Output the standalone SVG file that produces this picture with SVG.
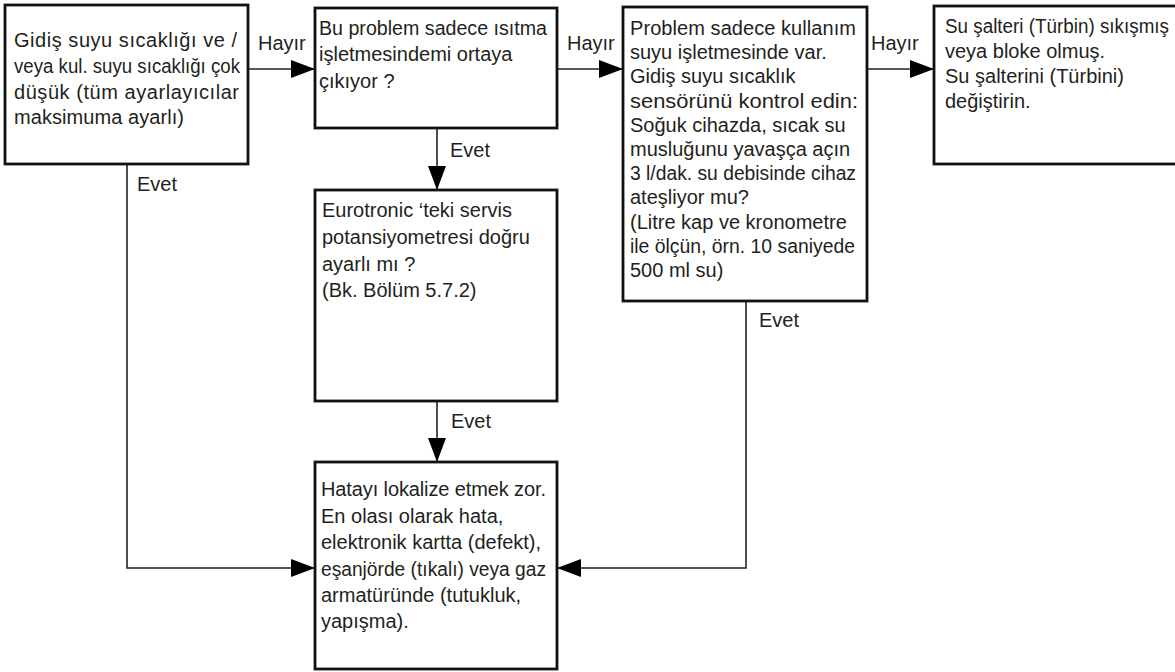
<svg xmlns="http://www.w3.org/2000/svg" width="1175" height="672" viewBox="0 0 1175 672">
<style>
.box{fill:#fff;stroke:#111;stroke-width:2.8}
.t{font-family:"Liberation Sans",Arial,sans-serif;font-size:20px;fill:#231f20}
.c{fill:none;stroke:#222;stroke-width:1.6}
</style>
<defs>
<marker id="ah" markerUnits="userSpaceOnUse" markerWidth="24" markerHeight="18" refX="24" refY="9" orient="auto">
<path d="M0,0 L24,9 L0,18 Z" fill="#000"/>
</marker>
</defs>
<rect width="1175" height="672" fill="#fff"/>
<g id="connectors">
<line class="c" x1="248" y1="69" x2="315" y2="69" marker-end="url(#ah)"/>
<line class="c" x1="557" y1="69" x2="623" y2="69" marker-end="url(#ah)"/>
<line class="c" x1="867" y1="69" x2="934" y2="69" marker-end="url(#ah)"/>
<line class="c" x1="437" y1="128" x2="437" y2="190" marker-end="url(#ah)"/>
<line class="c" x1="437" y1="401" x2="437" y2="462" marker-end="url(#ah)"/>
<polyline class="c" points="127,164 127,568 315,568" marker-end="url(#ah)"/>
<polyline class="c" points="746,301 746,568 557,568" marker-end="url(#ah)"/>
<text class="t" x="258" y="50">Hayır</text>
<text class="t" x="567" y="50">Hayır</text>
<text class="t" x="871" y="50">Hayır</text>
<text class="t" x="137" y="191">Evet</text>
<text class="t" x="450" y="157">Evet</text>
<text class="t" x="451" y="428">Evet</text>
<text class="t" x="759" y="327">Evet</text>
</g>
<g id="n1">
<rect class="box" x="5" y="5" width="243" height="159"/>
<text class="t" x="14" y="47" textLength="223" lengthAdjust="spacing">Gidiş suyu sıcaklığı ve /</text>
<text class="t" x="14" y="73" textLength="226" lengthAdjust="spacingAndGlyphs">veya kul. suyu sıcaklığı çok</text>
<text class="t" x="14" y="99" textLength="225" lengthAdjust="spacing">düşük (tüm ayarlayıcılar</text>
<text class="t" x="14" y="124" textLength="170" lengthAdjust="spacing">maksimuma ayarlı)</text>
</g>
<g id="n2">
<rect class="box" x="315" y="8" width="242" height="120"/>
<text class="t" x="319" y="35" textLength="228" lengthAdjust="spacingAndGlyphs">Bu problem sadece ısıtma</text>
<text class="t" x="319" y="61">işletmesindemi ortaya</text>
<text class="t" x="319" y="88">çıkıyor ?</text>
</g>
<g id="n3">
<rect class="box" x="623" y="7" width="244" height="294"/>
<text class="t" x="630" y="35" textLength="226" lengthAdjust="spacing">Problem sadece kullanım</text>
<text class="t" x="630" y="59.2">suyu işletmesinde var.</text>
<text class="t" x="630" y="83.4">Gidiş suyu sıcaklık</text>
<text class="t" x="630" y="107.6" textLength="228" lengthAdjust="spacingAndGlyphs">sensörünü kontrol edin:</text>
<text class="t" x="630" y="131.8">Soğuk cihazda, sıcak su</text>
<text class="t" x="630" y="156">musluğunu yavaşça açın</text>
<text class="t" x="630" y="180.2" textLength="226" lengthAdjust="spacingAndGlyphs">3 l/dak. su debisinde cihaz</text>
<text class="t" x="630" y="204.4">ateşliyor mu?</text>
<text class="t" x="630" y="228.6">(Litre kap ve kronometre</text>
<text class="t" x="630" y="252.8" textLength="225" lengthAdjust="spacingAndGlyphs">ile ölçün, örn. 10 saniyede</text>
<text class="t" x="630" y="277">500 ml su)</text>
</g>
<g id="n4">
<rect class="box" x="934" y="6" width="243" height="158"/>
<text class="t" x="945" y="33" textLength="224" lengthAdjust="spacingAndGlyphs">Su şalteri (Türbin) sıkışmış</text>
<text class="t" x="945" y="58">veya bloke olmuş.</text>
<text class="t" x="945" y="83">Su şalterini (Türbini)</text>
<text class="t" x="945" y="108">değiştirin.</text>
</g>
<g id="n5">
<rect class="box" x="315" y="190" width="242" height="211"/>
<text class="t" x="322" y="217">Eurotronic ‘teki servis</text>
<text class="t" x="322" y="244">potansiyometresi doğru</text>
<text class="t" x="322" y="271">ayarlı mı ?</text>
<text class="t" x="322" y="297">(Bk. Bölüm 5.7.2)</text>
</g>
<g id="n6">
<rect class="box" x="315" y="462" width="242" height="207"/>
<text class="t" x="321" y="496" textLength="225" lengthAdjust="spacing">Hatayı lokalize etmek zor.</text>
<text class="t" x="321" y="523">En olası olarak hata,</text>
<text class="t" x="321" y="549">elektronik kartta (defekt),</text>
<text class="t" x="321" y="576" textLength="225" lengthAdjust="spacingAndGlyphs">eşanjörde (tıkalı) veya gaz</text>
<text class="t" x="321" y="602">armatüründe (tutukluk,</text>
<text class="t" x="321" y="628">yapışma).</text>
</g>
</svg>
